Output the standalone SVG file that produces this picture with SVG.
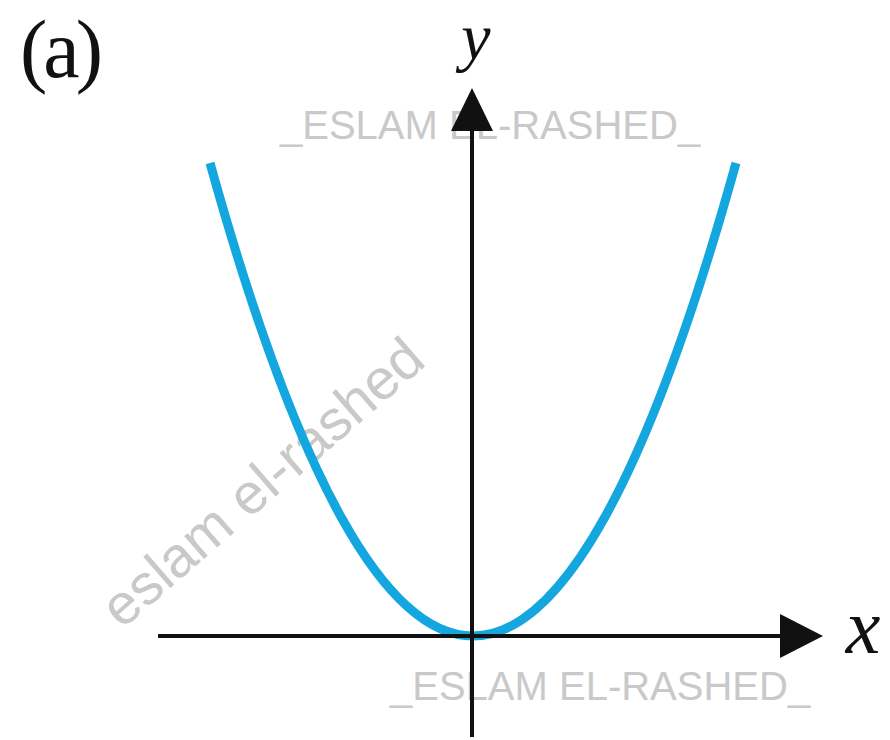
<svg xmlns="http://www.w3.org/2000/svg" width="890" height="740" viewBox="0 0 890 740">
<style>
.wm{font-family:"Liberation Sans",Arial,sans-serif;font-size:40px;fill:#c9c9c9}
.lbl{font-family:"Liberation Serif","Times New Roman",serif;font-style:italic;fill:#111}
.axis{stroke:#111;stroke-width:4;fill:none}
.curve{stroke:#14a6df;stroke-width:9;fill:none;stroke-linecap:butt}
</style>
<rect width="890" height="740" fill="#fff"/>
<g id="watermarks">
<text class="wm" x="280" y="139">_ESLAM EL-RASHED_</text>
<text class="wm" x="390" y="700">_ESLAM EL-RASHED_</text>
<text class="wm" style="font-size:57px" transform="translate(122,630) rotate(-41)">eslam el-rashed</text>
</g>
<g id="curve">
<path class="curve" d="M210,163 Q473,1109 736,163"/>
</g>
<g id="connectors">
<line class="axis" x1="472" y1="737" x2="472" y2="120"/>
<polygon points="472,88 451,131 493,131" fill="#111"/>
<line class="axis" x1="158" y1="636" x2="790" y2="636"/>
<polygon points="823,636 780,614 780,658" fill="#111"/>
</g>
<g id="labels">
<text class="lbl" x="476" y="59" font-size="66" text-anchor="middle">y</text>
<text class="lbl" x="863" y="653" font-size="78" text-anchor="middle">x</text>
<text x="20" y="77" font-family="Liberation Serif, Times New Roman, serif" font-size="82" letter-spacing="-4" fill="#111">(a)</text>
</g>
</svg>
